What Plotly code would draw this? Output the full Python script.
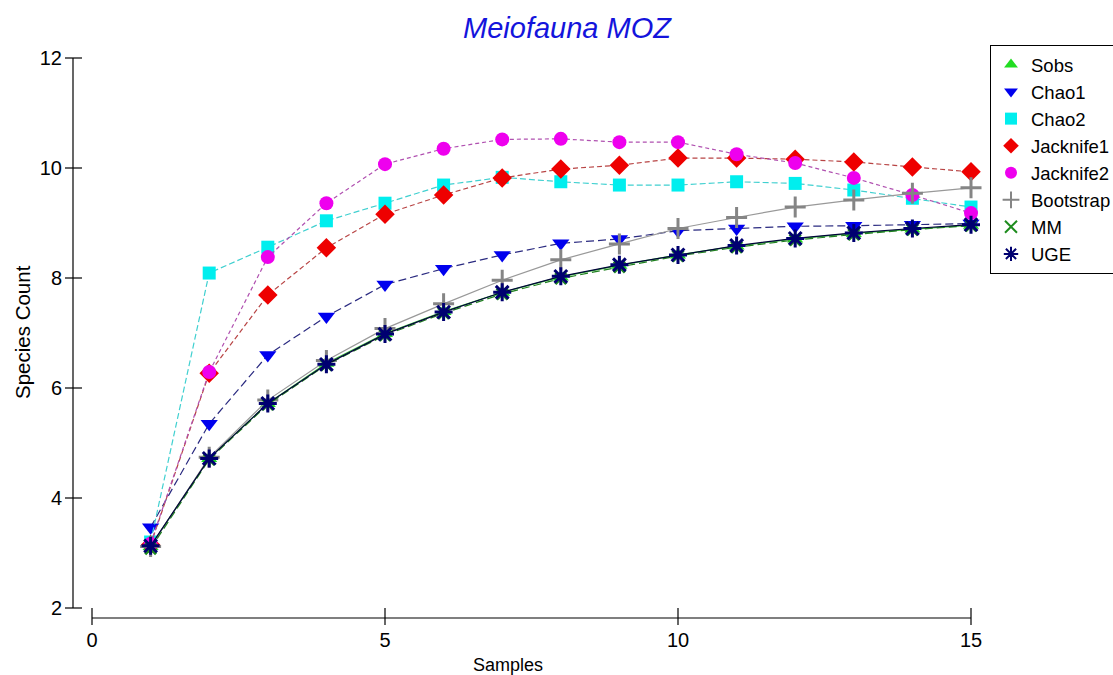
import plotly.graph_objects as go

samples = list(range(1, 16))
sobs = [3.12, 4.72, 5.72, 6.45, 6.99, 7.39, 7.74, 8.02, 8.23, 8.42, 8.58, 8.71, 8.81, 8.89, 8.96]
chao1 = [3.47, 5.35, 6.60, 7.30, 7.88, 8.17, 8.42, 8.63, 8.71, 8.86, 8.90, 8.94, 8.95, 8.97, 8.99]
chao2 = [3.20, 8.09, 8.56, 9.04, 9.36, 9.69, 9.83, 9.75, 9.69, 9.69, 9.75, 9.72, 9.60, 9.45, 9.29]
jack1 = [3.15, 6.27, 7.69, 8.55, 9.16, 9.51, 9.82, 9.98, 10.05, 10.18, 10.18, 10.16, 10.11, 10.02, 9.93]
jack2 = [3.17, 6.29, 8.38, 9.36, 10.07, 10.35, 10.52, 10.53, 10.47, 10.47, 10.25, 10.09, 9.82, 9.51, 9.18]
boot = [3.12, 4.74, 5.78, 6.50, 7.08, 7.53, 7.96, 8.33, 8.62, 8.90, 9.10, 9.29, 9.42, 9.54, 9.64]
mm = [3.08, 4.70, 5.70, 6.42, 6.96, 7.36, 7.71, 7.99, 8.20, 8.40, 8.56, 8.69, 8.79, 8.88, 8.95]
uge = [3.13, 4.72, 5.72, 6.43, 6.98, 7.38, 7.74, 8.03, 8.24, 8.42, 8.59, 8.72, 8.82, 8.90, 8.97]

x_ticks = [0, 5, 10, 15]
y_ticks = [2, 4, 6, 8, 10, 12]

FONT = "Liberation Sans, Arial, sans-serif"

series = [
    ("Sobs", sobs, dict(symbol="triangle-up", color="#22dd22", size=14), dict(color="#33bb33", width=1.2, dash="solid")),
    ("Chao1", chao1, dict(symbol="triangle-down", color="#0000ee", size=15), dict(color="#2a2a80", width=1.2, dash="8px,4px")),
    ("Chao2", chao2, dict(symbol="square", color="#00eeee", size=13), dict(color="#40d0d0", width=1.2, dash="6px,3px")),
    ("Jacknife1", jack1, dict(symbol="diamond", color="#ee0000", size=15), dict(color="#b84444", width=1.2, dash="5px,3px")),
    ("Jacknife2", jack2, dict(symbol="circle", color="#ee00ee", size=14), dict(color="#b050b0", width=1.2, dash="4px,3px")),
    ("Bootstrap", boot, dict(symbol="cross-thin-open", color="#858585", size=15, line=dict(width=3, color="#858585")), dict(color="#999999", width=1.2, dash="solid")),
    ("MM", mm, dict(symbol="x-thin-open", color="#1e8c1e", size=11, line=dict(width=3, color="#1e8c1e")), dict(color="#208020", width=1.2, dash="8px,4px")),
    ("UGE", uge, dict(symbol="asterisk-open", color="#000070", size=15, line=dict(width=3, color="#000070")), dict(color="#00003a", width=1.2, dash="solid")),
]

fig = go.Figure()
for name, vals, mk, ln in series:
    fig.add_trace(go.Scatter(x=samples, y=vals, mode="lines+markers", name=name,
                             marker=mk, line=ln, showlegend=False))
for name, vals, mk, ln in series:
    fig.add_trace(go.Scatter(x=[None], y=[None], mode="markers", name=name,
                             marker=mk, showlegend=True))

# plot geometry (pixels)
L, R, T, B = 65, 125, 50, 50
W, H = 1113, 675
px_per_x = 58.6
px_per_y = 55.0
x0_px = 92
y2_px = 608
plot_w = W - L - R
plot_h = H - T - B
xmin = (L - x0_px) / px_per_x
xmax = (W - R - x0_px) / px_per_x
ymax = 2 + (y2_px - T) / px_per_y
ymin = 2 - ((H - B) - y2_px) / px_per_y

yaxis_x = (73 - x0_px) / px_per_x
xaxis_y = 2 - (618 - y2_px) / px_per_y

shapes = []
# y axis line and ticks
shapes.append(dict(type="line", xref="x", yref="y", x0=yaxis_x, x1=yaxis_x, y0=y_ticks[0], y1=y_ticks[-1],
                   line=dict(color="black", width=1.2)))
for t in y_ticks:
    shapes.append(dict(type="line", xref="x", yref="y", xsizemode="pixel", xanchor=yaxis_x,
                       x0=-8, x1=9, y0=t, y1=t, line=dict(color="black", width=1.2)))
# x axis line and ticks
shapes.append(dict(type="line", xref="x", yref="y", x0=x_ticks[0], x1=x_ticks[-1], y0=xaxis_y, y1=xaxis_y,
                   line=dict(color="black", width=1.2)))
for t in x_ticks:
    shapes.append(dict(type="line", xref="x", yref="y", ysizemode="pixel", yanchor=xaxis_y,
                       x0=t, x1=t, y0=-9, y1=10, line=dict(color="black", width=1.2)))

fig.update_layout(
    width=W, height=H,
    margin=dict(l=L, r=R, t=T, b=B, autoexpand=False),
    paper_bgcolor="white", plot_bgcolor="white",
    font=dict(family=FONT, color="black", size=19),
    title=dict(text="Meiofauna MOZ", x=567 / W, xref="container", xanchor="center",
               y=1 - 28 / H, yref="container", yanchor="middle",
               font=dict(family=FONT, size=29, color="#1414dc", style="italic")),
    xaxis=dict(range=[xmin, xmax], tickvals=x_ticks, ticktext=[str(v) for v in x_ticks],
               showgrid=False, zeroline=False, showline=False, ticks="",
               tickfont=dict(size=20), ticklabelstandoff=1),
    yaxis=dict(range=[ymin, ymax], tickvals=y_ticks, ticktext=[str(v) for v in y_ticks],
               showgrid=False, zeroline=False, showline=False, ticks="",
               tickfont=dict(size=20), ticklabelstandoff=2),
    legend=dict(xref="container", yref="container", x=990 / W, y=1 - 45 / H,
                xanchor="left", yanchor="top", bordercolor="black", borderwidth=1,
                bgcolor="white", font=dict(size=18.5), itemsizing="constant",
                tracegroupgap=0),
    shapes=shapes,
    annotations=[
        dict(text="Samples", xref="paper", yref="paper", x=(508 - L) / plot_w, y=-(665 - (H - B)) / plot_h,
             showarrow=False, xanchor="center", yanchor="middle", font=dict(size=18)),
        dict(text="Species Count", xref="paper", yref="paper", x=(22 - L) / plot_w, y=((H - B) - 332) / plot_h,
             showarrow=False, xanchor="center", yanchor="middle", textangle=-90, font=dict(size=20.5)),
    ],
)

fig.write_html("out.html")
